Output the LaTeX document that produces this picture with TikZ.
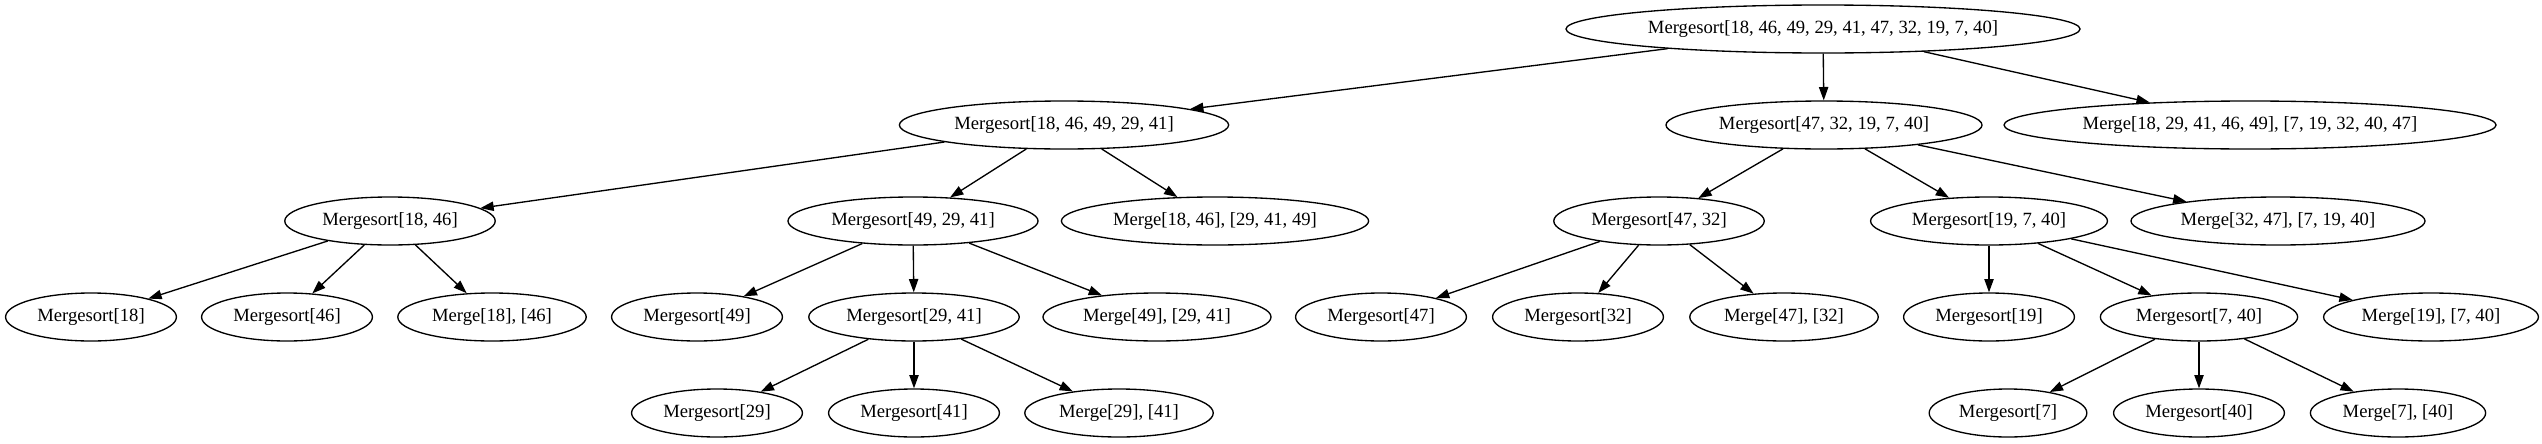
\documentclass[tikz,border=0pt]{standalone}
\usepackage{fontspec}
\setmainfont{Liberation Serif}
\usetikzlibrary{arrows.meta,shapes.geometric}
\begin{document}
\begin{tikzpicture}[x=0.75pt,y=-0.75pt,
  nd/.style={draw, ellipse, line width=1pt, inner xsep=5pt, inner ysep=1pt,
    minimum height=36pt, font=\fontsize{14pt}{16pt}\selectfont},
  ed/.style={-{Triangle[length=10pt,width=7pt]}, line width=1pt}]
\fill[white] (0,0) rectangle (2542,443);
\useasboundingbox (0,0) rectangle (2542,443);
% level 0
\node[nd] (r) at (1823,29) {Mergesort[18, 46, 49, 29, 41, 47, 32, 19, 7, 40]};
% level 1
\node[nd] (A) at (1064,125) {Mergesort[18, 46, 49, 29, 41]};
\node[nd] (B) at (1824,125) {Mergesort[47, 32, 19, 7, 40]};
\node[nd] (C) at (2250,125) {Merge[18, 29, 41, 46, 49], [7, 19, 32, 40, 47]};
% level 2
\node[nd] (A1) at (390,221) {Mergesort[18, 46]};
\node[nd] (A2) at (913,221) {Mergesort[49, 29, 41]};
\node[nd] (A3) at (1215,221) {Merge[18, 46], [29, 41, 49]};
\node[nd] (B1) at (1659,221) {Mergesort[47, 32]};
\node[nd] (B2) at (1989,221) {Mergesort[19, 7, 40]};
\node[nd] (B3) at (2278,221) {Merge[32, 47], [7, 19, 40]};
% level 3
\node[nd] (a11) at (91,317) {Mergesort[18]};
\node[nd] (a12) at (287,317) {Mergesort[46]};
\node[nd] (a13) at (492,317) {Merge[18], [46]};
\node[nd] (a21) at (697,317) {Mergesort[49]};
\node[nd] (a22) at (914,317) {Mergesort[29, 41]};
\node[nd] (a23) at (1157,317) {Merge[49], [29, 41]};
\node[nd] (b11) at (1381,317) {Mergesort[47]};
\node[nd] (b12) at (1578,317) {Mergesort[32]};
\node[nd] (b13) at (1784,317) {Merge[47], [32]};
\node[nd] (b21) at (1989,317) {Mergesort[19]};
\node[nd] (b22) at (2199,317) {Mergesort[7, 40]};
\node[nd] (b23) at (2431,317) {Merge[19], [7, 40]};
% level 4
\node[nd] (c1) at (717,413) {Mergesort[29]};
\node[nd] (c2) at (914,413) {Mergesort[41]};
\node[nd] (c3) at (1119,413) {Merge[29], [41]};
\node[nd] (d1) at (2008,413) {Mergesort[7]};
\node[nd] (d2) at (2199,413) {Mergesort[40]};
\node[nd] (d3) at (2398,413) {Merge[7], [40]};
% edges
\foreach \s/\t in {r/A, r/B, r/C, A/A1, A/A2, A/A3, B/B1, B/B2, B/B3,
  A1/a11, A1/a12, A1/a13, A2/a21, A2/a22, A2/a23, B1/b11, B1/b12, B1/b13,
  B2/b21, B2/b22, B2/b23, a22/c1, a22/c2, a22/c3, b22/d1, b22/d2, b22/d3}
  \draw[ed] (\s) -- (\t);
\end{tikzpicture}
\end{document}
